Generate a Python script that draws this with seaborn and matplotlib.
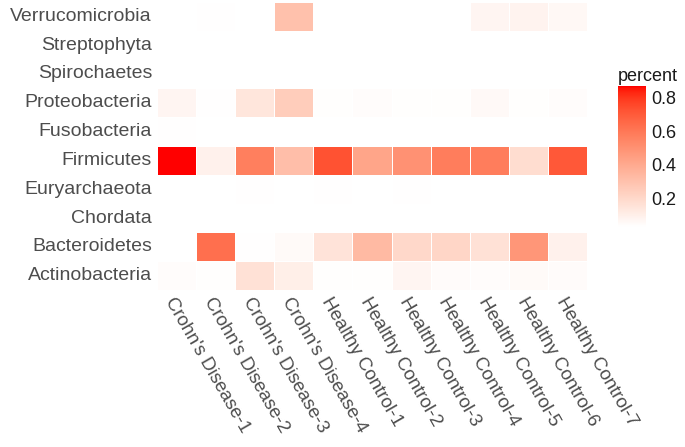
import numpy as np
import pandas as pd
import seaborn as sns
import matplotlib.pyplot as plt
from matplotlib.colors import ListedColormap

samples = ["Crohn's Disease-1", "Crohn's Disease-2", "Crohn's Disease-3", "Crohn's Disease-4",
           "Healthy Control-1", "Healthy Control-2", "Healthy Control-3", "Healthy Control-4",
           "Healthy Control-5", "Healthy Control-6", "Healthy Control-7"]
phyla = ["Verrucomicrobia", "Streptophyta", "Spirochaetes", "Proteobacteria", "Fusobacteria",
         "Firmicutes", "Euryarchaeota", "Chordata", "Bacteroidetes", "Actinobacteria"]

nan = np.nan
verrucomicrobia = [nan, 0.03, nan, 0.30, nan, nan, nan, nan, 0.07, 0.08, 0.06]
streptophyta = [0.026, nan, nan, nan, nan, nan, nan, nan, nan, nan, nan]
spirochaetes = [nan, nan, nan, nan, nan, nan, 0.026, nan, nan, nan, nan]
proteobacteria = [0.07, 0.03, 0.14, 0.25, 0.035, 0.04, 0.035, 0.035, 0.055, 0.033, 0.04]
fusobacteria = [0.03, nan, nan, nan, nan, nan, nan, nan, nan, nan, nan]
firmicutes = [0.87, 0.09, 0.57, 0.31, 0.73, 0.42, 0.50, 0.58, 0.58, 0.18, 0.71]
euryarchaeota = [nan, nan, 0.03, nan, 0.03, nan, 0.03, nan, nan, nan, nan]
chordata = [nan, nan, nan, nan, nan, 0.026, nan, nan, nan, nan, nan]
bacteroidetes = [nan, 0.63, 0.03, 0.05, 0.15, 0.33, 0.20, 0.21, 0.16, 0.48, 0.09]
actinobacteria = [0.04, 0.035, 0.16, 0.10, 0.033, 0.033, 0.07, 0.045, 0.04, 0.05, 0.045]

df = pd.DataFrame([verrucomicrobia, streptophyta, spirochaetes, proteobacteria, fusobacteria,
                   firmicutes, euryarchaeota, chordata, bacteroidetes, actinobacteria],
                  index=phyla, columns=samples)


def lab_to_rgb(L, a, b):
    fy = (L + 16) / 116
    fx = fy + a / 500
    fz = fy - b / 200

    def finv(t):
        return np.where(t > 6 / 29, t ** 3, 3 * (6 / 29) ** 2 * (t - 4 / 29))

    xyz = np.stack([0.95047 * finv(fx), finv(fy), 1.08883 * finv(fz)])
    m = np.array([[3.2406, -1.5372, -0.4986],
                  [-0.9689, 1.8758, 0.0415],
                  [0.0557, -0.2040, 1.0570]])
    lin = m @ xyz
    rgb = np.where(lin > 0.0031308, 1.055 * np.abs(lin) ** (1 / 2.4) - 0.055, 12.92 * lin)
    return np.clip(rgb, 0, 1).T


# white -> red, interpolated in Lab like ggplot
t = np.linspace(0, 1, 256)
cmap = ListedColormap(lab_to_rgb(100 + t * (53.24 - 100), t * 80.09, t * 67.20))

sns.set_style("white")
plt.rcParams['font.family'] = ['Liberation Sans', 'DejaVu Sans']

fig = plt.figure(figsize=(6.85, 4.47), dpi=100)
ax = fig.add_axes([0.229, 0.351, 0.628, 0.645])
cax = fig.add_axes([0.902, 0.492, 0.041, 0.315])

sns.heatmap(df, ax=ax, cbar_ax=cax, cmap=cmap, linewidths=0.6, linecolor='white',
            vmin=np.nanmin(df.values), vmax=np.nanmax(df.values))

ax.tick_params(length=0, labelsize=14, labelcolor='#4d4d4d')
ax.tick_params(axis='x', pad=3)
ax.set_yticklabels(phyla, rotation=0)
ax.set_xticklabels(samples, rotation=-60, ha='left', va='top', rotation_mode='anchor',
                   fontsize=13.5)
ax.set_xlabel('')
ax.set_ylabel('')

cax.set_yticks([0.2, 0.4, 0.6, 0.8])
cax.tick_params(left=True, right=True, direction='in', length=4, width=0.8,
                color='white', labelcolor='#1a1a1a', labelsize=13)
cax.set_title('percent', fontsize=13, color='#1a1a1a', loc='left', pad=4)
for s in cax.spines.values():
    s.set_visible(False)

fig.savefig('out.png', dpi=100)
